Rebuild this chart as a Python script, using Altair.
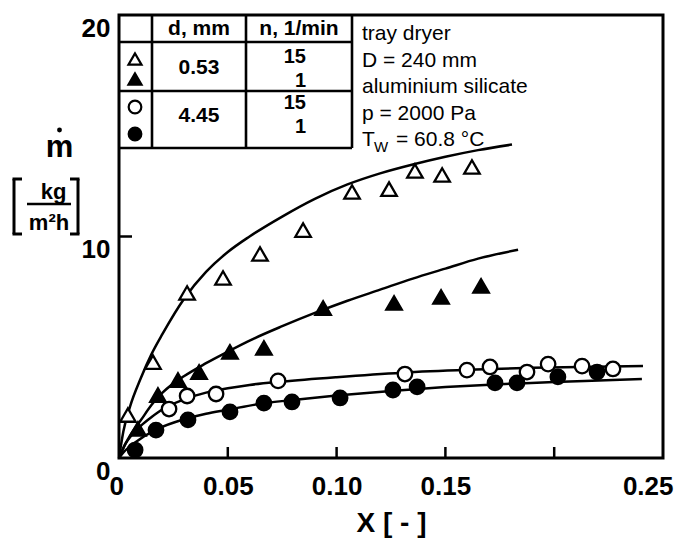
import altair as alt
import pandas as pd

FONT = "Liberation Sans"

# ---------------- data ----------------
# d = 0.53 mm, n = 15 1/min (open triangles)
tri_open_x = [0.0041, 0.0156, 0.0313, 0.0478, 0.0648, 0.0846, 0.1071, 0.1241, 0.1360, 0.1485, 0.1622]
tri_open_y = [1.94, 4.33, 7.45, 8.13, 9.21, 10.29, 12.01, 12.14, 12.96, 12.78, 13.14]
# d = 0.53 mm, n = 1 1/min (filled triangles)
tri_fill_x = [0.0087, 0.0179, 0.0271, 0.0368, 0.0510, 0.0666, 0.0938, 0.1264, 0.1480, 0.1664]
tri_fill_y = [1.31, 2.84, 3.52, 3.88, 4.79, 4.97, 6.77, 7.00, 7.27, 7.77]
# d = 4.45 mm, n = 15 1/min (open circles)
circ_open_x = [0.0230, 0.0313, 0.0446, 0.0731, 0.1314, 0.1599, 0.1705, 0.1875, 0.1972, 0.2128, 0.2270]
circ_open_y = [2.21, 2.80, 2.89, 3.48, 3.79, 3.97, 4.11, 3.88, 4.24, 4.15, 4.02]
# d = 4.45 mm, n = 1 1/min (filled circles)
circ_fill_x = [0.0074, 0.0170, 0.0317, 0.0510, 0.0666, 0.0795, 0.1016, 0.1259, 0.1370, 0.1728, 0.1829, 0.2017, 0.2197]
circ_fill_y = [0.36, 1.26, 1.72, 2.08, 2.48, 2.53, 2.71, 3.07, 3.21, 3.39, 3.39, 3.66, 3.88]

# fitted curves
curve1_x = [0, 0.002, 0.005, 0.010, 0.015, 0.020, 0.030, 0.040, 0.050, 0.060, 0.075, 0.090, 0.105, 0.120, 0.135, 0.150, 0.165, 0.1806]
curve1_y = [0, 1.20, 2.30, 3.60, 4.70, 5.60, 7.20, 8.40, 9.30, 10.00, 10.90, 11.70, 12.35, 12.85, 13.25, 13.60, 13.90, 14.15]
curve2_x = [0, 0.003, 0.006, 0.010, 0.015, 0.020, 0.030, 0.040, 0.050, 0.060, 0.075, 0.090, 0.105, 0.120, 0.135, 0.150, 0.165, 0.1834]
curve2_y = [0, 0.65, 1.15, 1.70, 2.40, 2.95, 3.70, 4.28, 4.80, 5.30, 5.95, 6.55, 7.10, 7.60, 8.10, 8.55, 9.00, 9.40]
curve3_x = [0, 0.003, 0.006, 0.010, 0.015, 0.020, 0.030, 0.040, 0.050, 0.060, 0.075, 0.100, 0.130, 0.160, 0.190, 0.2408]
curve3_y = [0, 0.65, 1.05, 1.45, 1.85, 2.20, 2.65, 2.95, 3.15, 3.30, 3.45, 3.65, 3.85, 3.98, 4.07, 4.15]
curve4_x = [0, 0.003, 0.0074, 0.0175, 0.030, 0.040, 0.050, 0.065, 0.080, 0.100, 0.125, 0.150, 0.175, 0.200, 0.227, 0.2403]
curve4_y = [0, 0.35, 0.70, 1.30, 1.75, 2.00, 2.18, 2.45, 2.62, 2.82, 3.03, 3.20, 3.33, 3.43, 3.52, 3.57]

x_ticks = [0, 0.05, 0.10, 0.15, 0.20, 0.25]
y_ticks = [0, 10, 20]
inner_x_ticks = [0.05, 0.10, 0.15, 0.20]
inner_y_ticks = [10]

table_header = ["d, mm", "n, 1/min"]
table_d = ["0.53", "4.45"]
table_n = ["15", "1"]
notes = ["tray dryer", "D = 240 mm", "aluminium silicate", "p = 2000 Pa"]

# ---------------- tables ----------------
def pts(xs, ys, name):
    return pd.DataFrame({"X": xs, "m": ys, "series": name})

points = pd.concat([
    pts(tri_open_x, tri_open_y, "tri_open"),
    pts(tri_fill_x, tri_fill_y, "tri_fill"),
    pts(circ_open_x, circ_open_y, "circ_open"),
    pts(circ_fill_x, circ_fill_y, "circ_fill"),
])
curves = pd.concat([
    pts(curve1_x, curve1_y, "c1"),
    pts(curve2_x, curve2_y, "c2"),
    pts(curve3_x, curve3_y, "c3"),
    pts(curve4_x, curve4_y, "c4"),
])

W, H = 544, 443

xscale = alt.Scale(domain=[0, 0.25], nice=False, zero=False)
yscale = alt.Scale(domain=[0, 20], nice=False)

xaxis = alt.Axis(values=x_ticks, ticks=False, domain=False, grid=False,
                 labelFont=FONT, labelFontSize=26, labelFontWeight="bold", labelColor="black",
                 labelPadding=15, labelFlush=True, labelFlushOffset=10,
                 labelExpr="datum.value == 0 ? '0' : (abs(datum.value - 0.2) < 1e-9 ? '' : format(datum.value, '.2f'))",
                 title="X [ - ]", titleFont=FONT, titleFontSize=28, titleFontWeight="bold",
                 titleColor="black", titlePadding=10)
yaxis = alt.Axis(values=y_ticks, ticks=False, domain=False, grid=False,
                 labelFont=FONT, labelFontSize=26, labelFontWeight="bold", labelColor="black",
                 labelPadding=9, labelBaseline="top", title=None)

lines = alt.Chart(curves).mark_line(color="black", strokeWidth=2.5, interpolate="monotone").encode(
    x=alt.X("X:Q", scale=xscale, axis=xaxis),
    y=alt.Y("m:Q", scale=yscale, axis=yaxis),
    detail="series:N",
)

def pt_layer(name, shape, filled, size):
    return alt.Chart(points).transform_filter(alt.datum.series == name).mark_point(
        shape=shape, size=size, filled=True,
        fill="black" if filled else "white", stroke="black",
        strokeWidth=2.3, opacity=1,
    ).encode(x=alt.X("X:Q", scale=xscale), y=alt.Y("m:Q", scale=yscale))

p_layers = [
    pt_layer("tri_open", "triangle-up", False, 240),
    pt_layer("tri_fill", "triangle-up", True, 240),
    pt_layer("circ_fill", "circle", True, 210),
    pt_layer("circ_open", "circle", False, 210),
]

# inward ticks
xt = alt.Chart(pd.DataFrame({"v": inner_x_ticks})).mark_rule(color="black", strokeWidth=2.5).encode(
    x=alt.X("v:Q", scale=xscale), y=alt.value(H), y2=alt.value(H - 11))
yt = alt.Chart(pd.DataFrame({"v": inner_y_ticks})).mark_rule(color="black", strokeWidth=2.5).encode(
    y=alt.Y("v:Q", scale=yscale), x=alt.value(0), x2=alt.value(13))

base = alt.Chart(pd.DataFrame({"k": [0]}))

def txt(t, x, y, size, bold=False, align="center", baseline="alphabetic"):
    return base.mark_text(text=t, font=FONT, fontSize=size, fontWeight="bold" if bold else "normal",
                          align=align, baseline=baseline, color="black").encode(
        x=alt.value(x), y=alt.value(y))

def hline(x1, x2, y, w=2.6):
    return base.mark_rule(color="black", strokeWidth=w).encode(x=alt.value(x1), x2=alt.value(x2), y=alt.value(y))

def vline(x, y1, y2, w=2.6):
    return base.mark_rule(color="black", strokeWidth=w).encode(x=alt.value(x), y=alt.value(y1), y2=alt.value(y2))

def sym(shape, filled, x, y, size):
    return base.mark_point(shape=shape, size=size, filled=True, fill="black" if filled else "white",
                           stroke="black", strokeWidth=2.2, opacity=1).encode(x=alt.value(x), y=alt.value(y))

# legend table (pixel layout relative to plot area)
table = [
    vline(33, 0, 133), vline(127, 0, 133), vline(233, 0, 133),
    hline(0, 233, 27), hline(0, 233, 76), hline(0, 233, 133),
    txt(table_header[0], 80, 20, 21, bold=True),
    txt(table_header[1], 180, 20, 21, bold=True),
    txt(table_d[0], 80, 59, 21, bold=True),
    txt(table_d[1], 80, 107, 21, bold=True),
    txt(table_n[0], 187, 48, 20, bold=True, align="right"),
    txt(table_n[1], 187, 72, 20, bold=True, align="right"),
    txt(table_n[0], 187, 94, 20, bold=True, align="right"),
    txt(table_n[1], 187, 118, 20, bold=True, align="right"),
    sym("triangle-up", False, 16, 44, 170),
    sym("triangle-up", True, 16, 64, 170),
    sym("circle", False, 16, 92, 160),
    sym("circle", True, 16, 119, 160),
]

note_layers = [txt(t, 243, 25 + 26.5 * i, 21, align="left") for i, t in enumerate(notes)]
note_layers += [
    txt("T", 243, 131, 21, align="left"),
    txt("W", 255, 137, 15, align="left"),
    txt("= 60.8 °C", 277, 131, 21, align="left"),
]

# y-axis title: m-dot and [kg / m²h]
ytitle = [
    txt("m", -59.5, 142, 31, bold=True),
    base.mark_point(shape="circle", size=24, filled=True, color="black", opacity=1).encode(
        x=alt.value(-59.5), y=alt.value(115)),
    txt("kg", -65.5, 184, 22, bold=True),
    hline(-92, -48, 189, 2.5),
    txt("m²h", -70, 215, 22, bold=True),
    vline(-105, 164, 219, 3), hline(-106.5, -97, 164, 3), hline(-106.5, -97, 219, 3),
    vline(-41, 164, 219, 3), hline(-49, -39.5, 164, 3), hline(-49, -39.5, 219, 3),
]

chart = alt.layer(lines, *p_layers, xt, yt, *table, *note_layers, *ytitle).properties(
    width=W, height=H,
    autosize=alt.AutoSizeParams(type="none"),
    padding={"left": 119, "top": 15, "right": 19, "bottom": 80},
    background="white",
).configure_view(stroke="black", strokeWidth=3)

chart.save("out.html", embed_options={"renderer": "svg", "actions": False})
